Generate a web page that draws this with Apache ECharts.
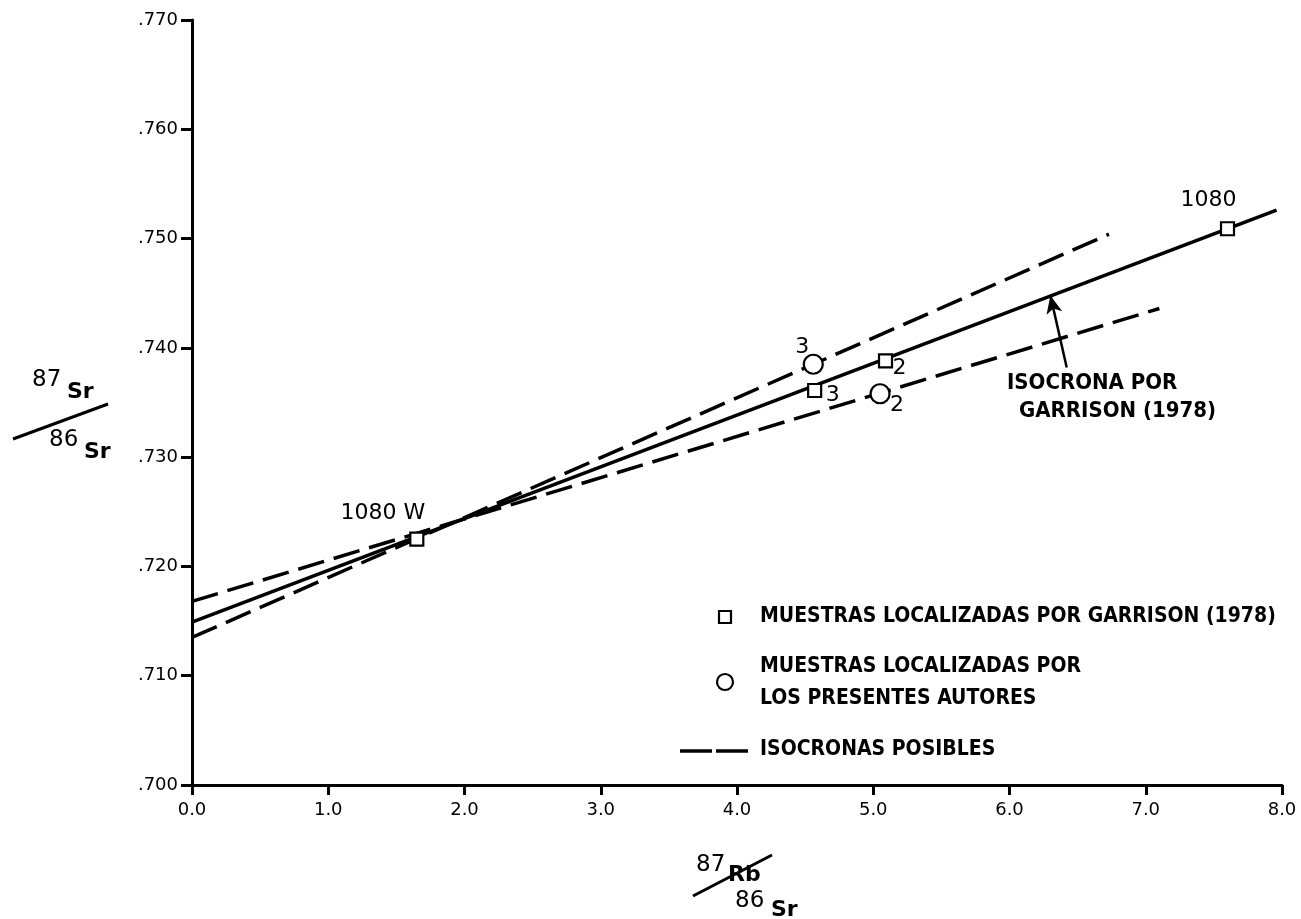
<!DOCTYPE html>
<html><head><meta charset="utf-8">
<script src="https://cdn.jsdelivr.net/npm/echarts@6/dist/echarts.min.js"></script>
<style>html,body{margin:0;padding:0;background:#fff}#c{width:1301px;height:919px}</style>
</head><body><div id="c"></div>
<script>
// ---- data ----
const xMin = 0, xMax = 8, xStep = 1;
const yMin = 0.700, yMax = 0.770, yStep = 0.010;
const garrisonSamples = [[1.65, 0.7225], [4.57, 0.7361], [5.09, 0.7388], [7.60, 0.7509]];
const garrisonLabels  = ['1080 W', '3', '2', '1080'];
const authorSamples   = [[4.56, 0.7385], [5.05, 0.7358]];
const authorLabels    = ['3', '2'];
const garrisonIsochron = [[0, 0.7149], [7.96, 0.7526]];
const possibleSteep    = [[0, 0.7135], [6.73, 0.7504]];
const possibleShallow  = [[0, 0.7168], [7.10, 0.7436]];
const arrowFrom = [6.42, 0.7382];
const arrowTo   = [6.30, 0.7448];
const legendTexts = ['MUESTRAS LOCALIZADAS POR GARRISON (1978)', 'MUESTRAS LOCALIZADAS POR', 'LOS PRESENTES AUTORES', 'ISOCRONAS POSIBLES'];
const annotText = ['ISOCRONA POR', 'GARRISON (1978)'];

// ---- styling / layout ----
const garrisonOffsets = [[-34, -26], [18, 5], [14, 7], [-19, -28]];
const authorOffsets   = [[-11, -17], [17, 12]];
const BASE = '"DejaVu Sans", sans-serif';
const NARROW = '"Liberation Sans Narrow", "DejaVu Sans Condensed", sans-serif';
const lblStyle = {show: true, position: 'inside', color: '#000', fontFamily: BASE, fontSize: 22};

const chart = echarts.init(document.getElementById('c'), null, {renderer: 'canvas'});
const option = {
  backgroundColor: '#fff',
  animation: false,
  grid: {left: 192, right: 19, top: 20, bottom: 134, containLabel: false},
  xAxis: {
    type: 'value', min: xMin, max: xMax, interval: xStep,
    axisLine: {show: true, lineStyle: {color: '#000', width: 3}},
    axisTick: {show: true, length: 10, lineStyle: {color: '#000', width: 3}},
    axisLabel: {color: '#000', fontFamily: BASE, fontSize: 18, margin: 16,
      formatter: v => v.toFixed(1)},
    splitLine: {show: false}
  },
  yAxis: {
    type: 'value', min: yMin, max: yMax, interval: yStep,
    axisLine: {show: true, lineStyle: {color: '#000', width: 3}},
    axisTick: {show: true, length: 11, lineStyle: {color: '#000', width: 3}},
    axisLabel: {color: '#000', fontFamily: BASE, fontSize: 18, margin: 14,
      formatter: v => v.toFixed(3).replace(/^0/, '')},
    splitLine: {show: false}
  },
  series: [
    {type: 'line', name: 'Isocrona Garrison', data: garrisonIsochron, symbol: 'none',
      lineStyle: {color: '#000', width: 3.5}, z: 2,
      markLine: {silent: true, symbol: ['none', 'arrow'], symbolSize: [12, 18],
        lineStyle: {color: '#000', width: 2.5, type: 'solid'}, label: {show: false},
        data: [[{coord: arrowFrom}, {coord: arrowTo}]]}},
    {type: 'line', name: 'ISOCRONAS POSIBLES', data: possibleSteep, symbol: 'none',
      lineStyle: {color: '#000', width: 3.5, type: [27, 10]}, z: 2},
    {type: 'line', name: 'ISOCRONAS POSIBLES 2', data: possibleShallow, symbol: 'none',
      lineStyle: {color: '#000', width: 3.5, type: [27, 10]}, z: 2},
    {type: 'scatter', name: 'Garrison', symbol: 'rect', symbolSize: 13, z: 5,
      itemStyle: {color: '#fff', borderColor: '#000', borderWidth: 2.2, opacity: 1},
      data: garrisonSamples.map((p, i) => ({value: p,
        label: Object.assign({}, lblStyle, {formatter: garrisonLabels[i], offset: garrisonOffsets[i]})}))},
    {type: 'scatter', name: 'Autores', symbol: 'circle', symbolSize: 19, z: 5,
      itemStyle: {color: '#fff', borderColor: '#000', borderWidth: 2.2, opacity: 1},
      data: authorSamples.map((p, i) => ({value: p,
        label: Object.assign({}, lblStyle, {formatter: authorLabels[i], offset: authorOffsets[i]})}))}
  ],
  graphic: [
    // annotation
    {type: 'text', left: 1007, top: 372, style: {text: annotText[0], font: 'bold 22px ' + NARROW, fill: '#000'}},
    {type: 'text', left: 1019, top: 400, style: {text: annotText[1], font: 'bold 22px ' + NARROW, fill: '#000'}},
    // legend
    {type: 'rect', shape: {x: 719, y: 611, width: 12, height: 12}, style: {fill: '#fff', stroke: '#000', lineWidth: 2.2}},
    {type: 'text', left: 760, top: 606, style: {text: legendTexts[0], font: 'bold 21px ' + NARROW, fill: '#000'}},
    {type: 'circle', shape: {cx: 725, cy: 682, r: 8}, style: {fill: '#fff', stroke: '#000', lineWidth: 2.2}},
    {type: 'text', left: 760, top: 656, style: {text: legendTexts[1], font: 'bold 21px ' + NARROW, fill: '#000'}},
    {type: 'text', left: 760, top: 688, style: {text: legendTexts[2], font: 'bold 21px ' + NARROW, fill: '#000'}},
    {type: 'line', shape: {x1: 680, y1: 751, x2: 749, y2: 751}, style: {stroke: '#000', lineWidth: 3.5, lineDash: [32, 4]}},
    {type: 'text', left: 760, top: 739, style: {text: legendTexts[3], font: 'bold 21px ' + NARROW, fill: '#000'}},
    // y-axis name  87Sr / 86Sr
    {type: 'text', left: 32, top: 369, style: {text: '87', font: '23px ' + BASE, fill: '#000'}},
    {type: 'text', left: 67, top: 381, style: {text: 'Sr', font: 'bold 22px ' + BASE, fill: '#000'}},
    {type: 'line', shape: {x1: 13, y1: 439, x2: 108, y2: 404}, style: {stroke: '#000', lineWidth: 3}},
    {type: 'text', left: 49, top: 429, style: {text: '86', font: '23px ' + BASE, fill: '#000'}},
    {type: 'text', left: 84, top: 441, style: {text: 'Sr', font: 'bold 22px ' + BASE, fill: '#000'}},
    // x-axis name  87Rb / 86Sr
    {type: 'text', left: 696, top: 854, style: {text: '87', font: '23px ' + BASE, fill: '#000'}},
    {type: 'text', left: 728, top: 864, style: {text: 'Rb', font: 'bold 22px ' + BASE, fill: '#000'}},
    {type: 'line', shape: {x1: 693, y1: 896, x2: 772, y2: 855}, style: {stroke: '#000', lineWidth: 3}},
    {type: 'text', left: 735, top: 890, style: {text: '86', font: '23px ' + BASE, fill: '#000'}},
    {type: 'text', left: 771, top: 899, style: {text: 'Sr', font: 'bold 22px ' + BASE, fill: '#000'}}
  ]
};
chart.setOption(option);
</script>
</body></html>
